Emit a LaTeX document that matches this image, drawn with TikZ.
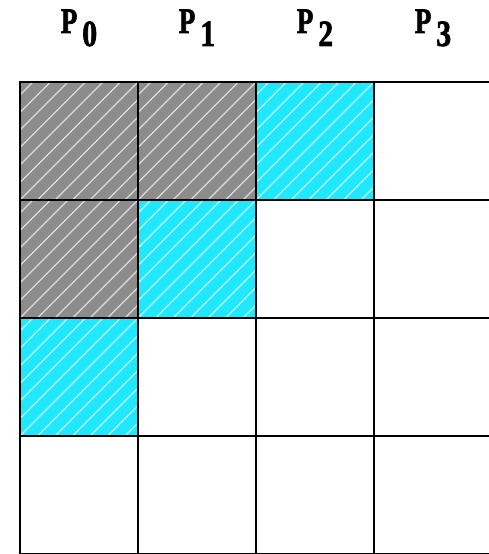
\documentclass[tikz,border=0pt]{standalone}
\usepackage{graphicx}
\usepackage{fontspec}
\newfontfamily\lblfont{Liberation Serif Bold}[FakeBold=2]
\definecolor{cellgray}{RGB}{140,140,140}
\definecolor{cellcyan}{RGB}{32,232,255}
\newcommand\plabel[1]{\scalebox{0.75}[1]{\lblfont\fontsize{36}{36}\selectfont P}\hspace{5pt}\raisebox{-13pt}{\scalebox{0.8}[1]{\lblfont\fontsize{37}{37}\selectfont #1}}}
\tikzset{
  cell/.style={draw=black, line width=1.9pt, minimum width=118pt, minimum height=118pt,
    inner sep=0pt, outer sep=0pt, anchor=north west},
  hatchline/.style={draw=white, draw opacity=0.7, line width=1.3pt},
  hatched/.style={fill=#1, path picture={
    \foreach \k in {-8,...,8}
      \draw[hatchline] ([xshift=\k*17.5pt]path picture bounding box.south west) -- ++(140pt,140pt);}},
  graycell/.style={hatched=cellgray},
  cyancell/.style={hatched=cellcyan},
  plaincell/.style={fill=white},
  lbl/.style={anchor=base, inner sep=0pt}
}
\begin{document}
\begin{tikzpicture}[x=1pt,y=1pt]
\clip (0,0) rectangle (489,554);
\fill[white] (0,0) rectangle (489,554);
\foreach \r in {0,...,3}{
  \foreach \c in {0,...,3}{
    \pgfmathtruncatemacro{\s}{\r+\c}
    \ifnum\s<2 \def\st{graycell}\else\ifnum\s=2 \def\st{cyancell}\else\def\st{plaincell}\fi\fi
    \node[cell,\st] (c\r\c) at (20+118*\c, 472-118*\r) {};
  }
}
\node[lbl] (p0) at (79,521) {\plabel{0}};
\node[lbl] (p1) at (197,521) {\plabel{1}};
\node[lbl] (p2) at (315,521) {\plabel{2}};
\node[lbl] (p3) at (433,521) {\plabel{3}};
\end{tikzpicture}
\end{document}
